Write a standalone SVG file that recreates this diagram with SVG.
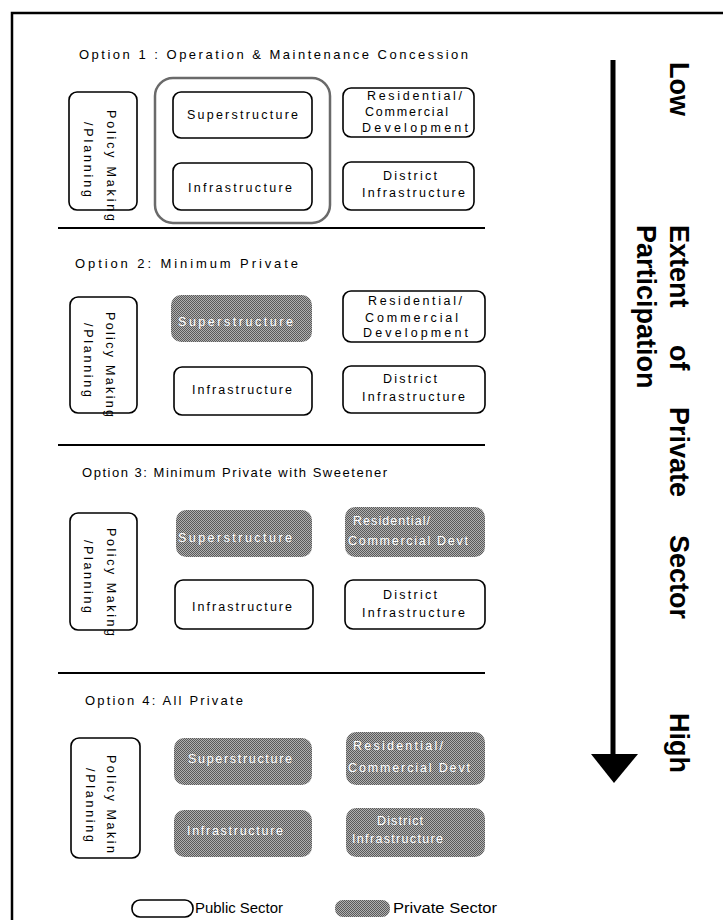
<svg xmlns="http://www.w3.org/2000/svg" width="723" height="920" viewBox="0 0 723 920">
<defs>
<pattern id="dither" width="2" height="2" patternUnits="userSpaceOnUse">
<rect width="2" height="2" fill="#b0b0b0"/>
<rect width="1" height="1" fill="#5a5a5a"/>
<rect x="1" y="1" width="1" height="1" fill="#5a5a5a"/>
</pattern>
<style>
.pub{fill:#fff;stroke:#000;stroke-width:1.6}
.pri{fill:url(#dither);stroke:none}
.t{font-family:"Liberation Sans",Arial,sans-serif;font-size:12.5px;fill:#000}
.w{font-family:"Liberation Sans",Arial,sans-serif;font-size:12.5px;fill:#fff}
.ti{font-family:"Liberation Sans",Arial,sans-serif;font-size:13px;fill:#000}
.lg{font-family:"Liberation Sans",Arial,sans-serif;font-size:14px;fill:#000}
.ax{font-family:"Liberation Sans",Arial,sans-serif;font-size:27px;font-weight:bold;fill:#000}
.div{stroke:#000;stroke-width:2}
</style>
</defs>
<rect width="723" height="920" fill="#fff"/>
<path d="M12 930 V13 H735" fill="none" stroke="#000" stroke-width="2.5"/>

<g id="option1">
<text class="ti" x="79" y="59" textLength="389" lengthAdjust="spacing">Option 1 : Operation &amp; Maintenance Concession</text>
<g id="o1-policy"><rect class="pub" x="69" y="92" width="68" height="118" rx="8"/>
<text class="t" transform="translate(107,110) rotate(90)" textLength="111" lengthAdjust="spacing">Policy Making</text>
<text class="t" transform="translate(84,122) rotate(90)" textLength="75" lengthAdjust="spacing">/Planning</text></g>
<g id="o1-group"><rect x="155" y="78" width="175" height="145" rx="18" fill="none" stroke="#6a6a6a" stroke-width="2.5"/></g>
<g id="o1-super"><rect class="pub" x="173" y="92" width="139" height="46" rx="8"/>
<text class="t" x="187" y="119" textLength="111" lengthAdjust="spacing">Superstructure</text></g>
<g id="o1-infra"><rect class="pub" x="173" y="163" width="139" height="47" rx="8"/>
<text class="t" x="188" y="192" textLength="104" lengthAdjust="spacing">Infrastructure</text></g>
<g id="o1-resid"><rect class="pub" x="343" y="88" width="131" height="49" rx="8"/>
<text class="t" x="367" y="100" textLength="95" lengthAdjust="spacing">Residential/</text>
<text class="t" x="365" y="116" textLength="83" lengthAdjust="spacing">Commercial</text>
<text class="t" x="362" y="132" textLength="106" lengthAdjust="spacing">Development</text></g>
<g id="o1-district"><rect class="pub" x="343" y="162" width="131" height="48" rx="8"/>
<text class="t" x="383" y="180" textLength="54" lengthAdjust="spacing">District</text>
<text class="t" x="362" y="197" textLength="103" lengthAdjust="spacing">Infrastructure</text></g>
</g>
<line class="div" x1="58" y1="228" x2="485" y2="228"/>

<g id="option2">
<text class="ti" x="75" y="268" textLength="223" lengthAdjust="spacing">Option 2: Minimum Private</text>
<g id="o2-policy"><rect class="pub" x="70" y="297" width="67" height="116" rx="8"/>
<text class="t" transform="translate(106,312) rotate(90)" textLength="105" lengthAdjust="spacing">Policy Making</text>
<text class="t" transform="translate(84,323) rotate(90)" textLength="74" lengthAdjust="spacing">/Planning</text></g>
<g id="o2-super"><rect class="pri" x="171" y="295" width="141" height="47" rx="10"/>
<text class="w" x="178" y="326" textLength="115" lengthAdjust="spacing">Superstructure</text></g>
<g id="o2-resid"><rect class="pub" x="343" y="291" width="142" height="51" rx="8"/>
<text class="t" x="368" y="305" textLength="94" lengthAdjust="spacing">Residential/</text>
<text class="t" x="365" y="322" textLength="93" lengthAdjust="spacing">Commercial</text>
<text class="t" x="363" y="337" textLength="105" lengthAdjust="spacing">Development</text></g>
<g id="o2-infra"><rect class="pub" x="174" y="367" width="138" height="48" rx="8"/>
<text class="t" x="192" y="394" textLength="100" lengthAdjust="spacing">Infrastructure</text></g>
<g id="o2-district"><rect class="pub" x="343" y="366" width="142" height="47" rx="8"/>
<text class="t" x="383" y="383" textLength="54" lengthAdjust="spacing">District</text>
<text class="t" x="362" y="401" textLength="103" lengthAdjust="spacing">Infrastructure</text></g>
</g>
<line class="div" x1="58" y1="445" x2="485" y2="445"/>

<g id="option3">
<text class="ti" x="82" y="477" textLength="305" lengthAdjust="spacing">Option 3: Minimum Private with Sweetener</text>
<g id="o3-policy"><rect class="pub" x="70" y="513" width="67" height="117" rx="8"/>
<text class="t" transform="translate(107,528) rotate(90)" textLength="108" lengthAdjust="spacing">Policy Making</text>
<text class="t" transform="translate(84,540) rotate(90)" textLength="73" lengthAdjust="spacing">/Planning</text></g>
<g id="o3-super"><rect class="pri" x="176" y="510" width="136" height="47" rx="10"/>
<text class="w" x="178" y="542" textLength="114" lengthAdjust="spacing">Superstructure</text></g>
<g id="o3-resid"><rect class="pri" x="345" y="507" width="140" height="50" rx="10"/>
<text class="w" x="353" y="525" textLength="77" lengthAdjust="spacing">Residential/</text>
<text class="w" x="348" y="545" textLength="120" lengthAdjust="spacing">Commercial Devt</text></g>
<g id="o3-infra"><rect class="pub" x="175" y="580" width="138" height="49" rx="8"/>
<text class="t" x="192" y="611" textLength="100" lengthAdjust="spacing">Infrastructure</text></g>
<g id="o3-district"><rect class="pub" x="345" y="580" width="140" height="49" rx="8"/>
<text class="t" x="383" y="599" textLength="54" lengthAdjust="spacing">District</text>
<text class="t" x="362" y="617" textLength="103" lengthAdjust="spacing">Infrastructure</text></g>
</g>
<line class="div" x1="58" y1="673" x2="485" y2="673"/>

<g id="option4">
<text class="ti" x="85" y="705" textLength="158" lengthAdjust="spacing">Option 4: All Private</text>
<g id="o4-policy"><rect class="pub" x="71" y="738" width="69" height="120" rx="8"/>
<text class="t" transform="translate(107,755) rotate(90)" textLength="98" lengthAdjust="spacing">Policy Makin</text>
<text class="t" transform="translate(86,768) rotate(90)" textLength="74" lengthAdjust="spacing">/Planning</text></g>
<g id="o4-super"><rect class="pri" x="174" y="738" width="138" height="47" rx="10"/>
<text class="w" x="188" y="763" textLength="104" lengthAdjust="spacing">Superstructure</text></g>
<g id="o4-resid"><rect class="pri" x="346" y="732" width="139" height="53" rx="10"/>
<text class="w" x="353" y="750" textLength="90" lengthAdjust="spacing">Residential/</text>
<text class="w" x="348" y="772" textLength="122" lengthAdjust="spacing">Commercial Devt</text></g>
<g id="o4-infra"><rect class="pri" x="174" y="810" width="138" height="47" rx="10"/>
<text class="w" x="187" y="835" textLength="96" lengthAdjust="spacing">Infrastructure</text></g>
<g id="o4-district"><rect class="pri" x="346" y="808" width="139" height="49" rx="10"/>
<text class="w" x="377" y="825" textLength="46" lengthAdjust="spacing">District</text>
<text class="w" x="352" y="843" textLength="91" lengthAdjust="spacing">Infrastructure</text></g>
</g>

<g id="legend">
<g id="legend-public"><rect class="pub" x="132" y="900" width="61" height="17" rx="8"/>
<text class="lg" x="195" y="913" textLength="88" lengthAdjust="spacingAndGlyphs">Public Sector</text></g>
<g id="legend-private"><rect class="pri" x="335" y="900" width="55" height="17" rx="8"/>
<text class="lg" x="393" y="913" textLength="104" lengthAdjust="spacingAndGlyphs">Private Sector</text></g>
</g>

<g id="connectors">
<line x1="613" y1="60" x2="613" y2="756" stroke="#000" stroke-width="5"/>
<polygon points="591,754 638,754 614,783" fill="#000"/>
</g>

<g id="axis-labels">
<text class="ax" transform="translate(670,62) rotate(90)">Low</text>
<text class="ax" transform="translate(670,0) rotate(90)"><tspan x="225">Extent</tspan><tspan x="345">of</tspan><tspan x="407">Private</tspan><tspan x="535">Sector</tspan></text>
<text class="ax" transform="translate(637,225) rotate(90)">Participation</text>
<text class="ax" transform="translate(670,713) rotate(90)">High</text>
</g>
</svg>
